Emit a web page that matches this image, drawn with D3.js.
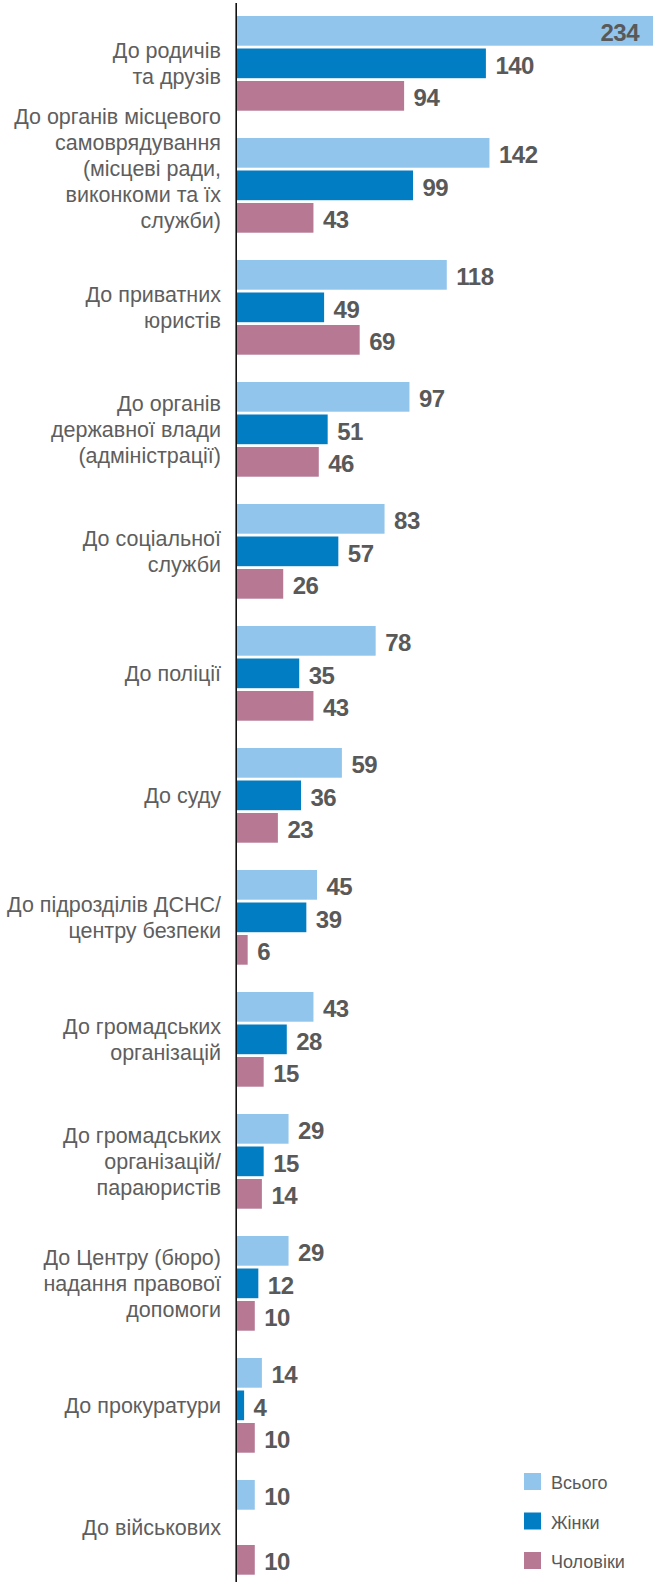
<!DOCTYPE html>
<html><head><meta charset="utf-8">
<script src="https://cdn.jsdelivr.net/npm/d3@7"></script>
<style>html,body{margin:0;padding:0;background:#fff}svg{display:block}</style>
</head><body>
<script>
const categories = [
  "До родичів|та друзів",
  "До органів місцевого|самоврядування|(місцеві ради,|виконкоми та їх|служби)",
  "До приватних|юристів",
  "До органів|державної влади|(адміністрації)",
  "До соціальної|служби",
  "До поліції",
  "До суду",
  "До підрозділів ДСНС/|центру безпеки",
  "До громадських|організацій",
  "До громадських|організацій/|параюристів",
  "До Центру (бюро)|надання правової|допомоги",
  "До прокуратури",
  "До військових"
];
const seriesNames = ["Всього", "Жінки", "Чоловіки"];
const totalValues = [234, 142, 118, 97, 83, 78, 59, 45, 43, 29, 29, 14, 10];
const womenValues = [140, 99, 49, 51, 57, 35, 36, 39, 28, 15, 12, 4, null];
const menValues   = [94, 43, 69, 46, 26, 43, 23, 6, 15, 14, 10, 10, 10];
const seriesColors = ["#92C5EB", "#007DC3", "#B77894"];

const W = 653, H = 1582;
const svg = d3.select("body").append("svg").attr("width", W).attr("height", H);

const values = [totalValues, womenValues, menValues];
const rows = categories.map((c, i) => ({cat: c, vals: seriesNames.map((s, j) => ({s, j, v: values[j][i]}))}));

const x = d3.scaleLinear().domain([0, d3.max(totalValues)]).range([237, 653]);
const y = d3.scaleBand().domain(categories).range([16, 1574.7]).paddingInner(0.2238).paddingOuter(0);
const yi = d3.scaleBand().domain(seriesNames).range([0, y.bandwidth()]).paddingInner(0.086);

// axis line
svg.append("line").attr("x1", 236.2).attr("x2", 236.2).attr("y1", 3).attr("y2", H)
  .attr("stroke", "#111").attr("stroke-width", 1.6);

const g = svg.selectAll("g.grp").data(rows).join("g").attr("class", "grp")
  .attr("transform", d => `translate(0,${y(d.cat)})`);

g.selectAll("rect").data(d => d.vals.filter(v => v.v != null)).join("rect")
  .attr("x", x(0)).attr("y", d => yi(d.s)).attr("width", d => x(d.v) - x(0))
  .attr("height", yi.bandwidth()).attr("fill", d => seriesColors[d.j]);

g.selectAll("text.val").data(d => d.vals.filter(v => v.v != null)).join("text")
  .attr("class", "val")
  .attr("font-family", "'Liberation Sans', Arial, sans-serif").attr("font-weight", "bold")
  .attr("font-size", 24).attr("letter-spacing", -0.5).attr("fill", "#595959")
  .attr("y", d => yi(d.s) + yi.bandwidth() / 2 + 10.3)
  .each(function(d) {
    const t = d3.select(this).text(d.v);
    const inside = x(d.v) + 9.5 + 40 > W;
    t.attr("x", inside ? x(d.v) - 14 : x(d.v) + 9.5).attr("text-anchor", inside ? "end" : "start");
  });

// category labels
const lineH = 26;
const labelShift = {1: -17};
g.each(function(d, i) {
  const lines = d.cat.split("|");
  const cy = y.bandwidth() / 2 + (labelShift[i] || 0);
  const t = d3.select(this).append("text")
    .attr("font-family", "'Liberation Sans', Arial, sans-serif").attr("font-size", 21.5)
    .attr("fill", "#5e5e5e").attr("text-anchor", "end");
  lines.forEach((l, k) => {
    t.append("tspan").attr("x", 221)
      .attr("y", cy + (k - (lines.length - 1) / 2) * lineH + 8).text(l);
  });
});

// legend
const leg = svg.append("g").selectAll("g").data(seriesNames).join("g")
  .attr("transform", (d, i) => `translate(524,${1473 + i * 39.5})`);
leg.append("rect").attr("width", 17).attr("height", 17).attr("fill", (d, i) => seriesColors[i]);
leg.append("text").attr("x", 27).attr("y", 16).attr("font-family", "'Liberation Sans', Arial, sans-serif")
  .attr("font-size", 18).attr("fill", "#595959").text(d => d);
</script>
</body></html>
